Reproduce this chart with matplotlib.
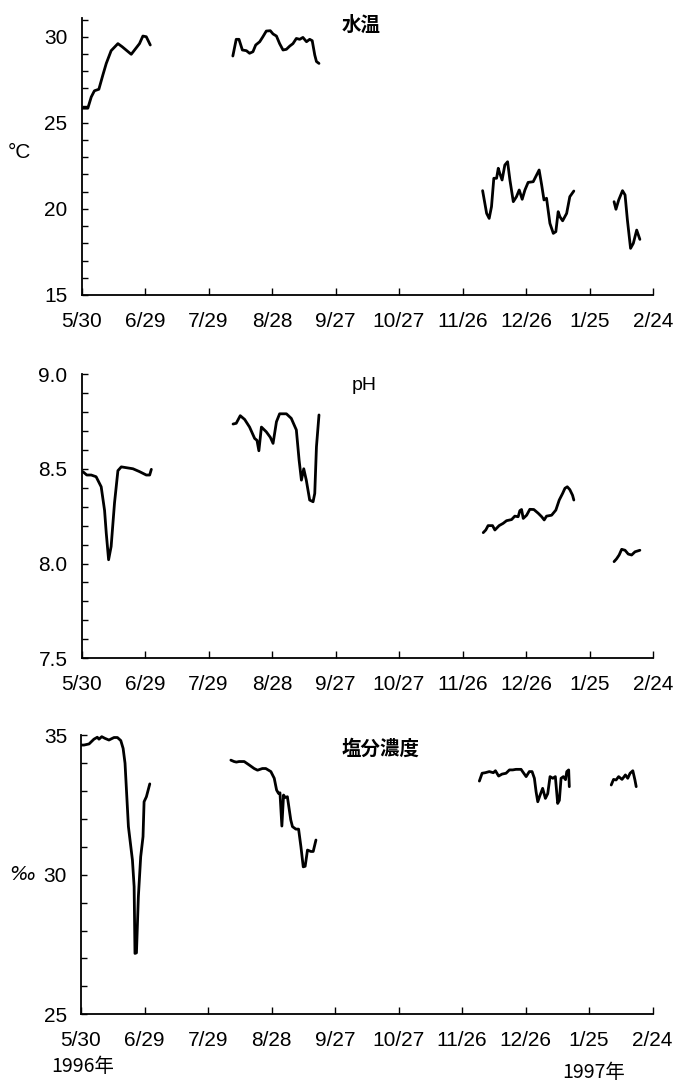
import numpy as np
import matplotlib
matplotlib.use("Agg")
import matplotlib.pyplot as plt
from matplotlib.ticker import MultipleLocator, FixedLocator

# ---------------- data (day offset from 1996-05-30) ----------------
tick_days = [0, 30, 60, 90, 120, 150, 180, 210, 240, 270]
tick_labels = ["5/30", "6/29", "7/29", "8/28", "9/27", "10/27", "11/26", "12/26", "1/25", "2/24"]

# Water temperature (deg C)
temp_d1 = [0.3, 3, 4.6, 6.1, 8.2, 10.1, 11.7, 14, 17.2, 19.2, 23.5, 27.4, 29, 30.6, 32.5]
temp_v1 = [25.85, 25.85, 26.5, 26.86, 26.95, 27.78, 28.45, 29.19, 29.6, 29.42, 28.98, 29.6, 30.04, 30.0, 29.52]
temp_d2 = [71.5, 73.1, 74.4, 76, 77.9, 79.4, 81, 82.3, 84.2, 85.7, 87.3, 89.2, 90.5, 92.1, 93.6, 95.2,
           96.8, 98.4, 99.9, 101.5, 103.1, 104.6, 106.3, 107.8, 109, 110.2, 111, 112.2]
temp_v2 = [28.88, 29.85, 29.85, 29.23, 29.19, 29.04, 29.13, 29.52, 29.71, 30.0, 30.33, 30.35, 30.16, 30.04,
           29.6, 29.23, 29.27, 29.46, 29.6, 29.9, 29.85, 29.96, 29.71, 29.85, 29.77, 28.94, 28.56, 28.45]
temp_d3 = [189.5, 191.4, 192.6, 193.7, 194.8, 196.1, 196.9, 197.6, 198.7, 200, 201.3, 202.4, 204, 205.5,
           206.8, 208.2, 209.5, 211, 213.4, 215, 216.2, 217.4, 218.5, 219.7, 221.3, 222.9, 224.1, 225.2,
           226, 227.3, 229.2, 230.7, 232.6]
temp_v3 = [21.06, 19.74, 19.45, 20.13, 21.78, 21.78, 22.36, 22.07, 21.68, 22.55, 22.74, 21.68, 20.42, 20.71,
           21.1, 20.56, 21.1, 21.54, 21.58, 21.97, 22.26, 21.39, 20.52, 20.62, 19.16, 18.58, 18.68, 19.84,
           19.55, 19.31, 19.74, 20.71, 21.04]
temp_d4 = [251.6, 252.5, 253.8, 255.6, 256.8, 257.9, 259.4, 260.7, 262.3, 263.8]
temp_v4 = [20.42, 19.98, 20.52, 21.06, 20.81, 19.36, 17.71, 18.0, 18.77, 18.23]

# pH
ph_d1 = [0.6, 2.5, 4.6, 6.9, 9.3, 10.9, 11.7, 12.8, 14, 15.6, 17.2, 18.8, 24.3, 27.4, 30.6, 32.2, 33]
ph_v1 = [8.485, 8.467, 8.467, 8.458, 8.405, 8.28, 8.16, 8.02, 8.09, 8.32, 8.49, 8.51, 8.50, 8.485, 8.467,
         8.467, 8.497]
ph_d2 = [71.6, 73.1, 75, 77.1, 79.4, 81.8, 82.9, 83.8, 85, 87.3, 89.2, 90.5, 92.1, 93.6, 96.8, 99.1, 101.5,
         102.8, 103.9, 105, 106.2, 107.8, 109.4, 110.2, 111, 112.2]
ph_v2 = [8.736, 8.74, 8.78, 8.76, 8.72, 8.66, 8.65, 8.595, 8.72, 8.695, 8.666, 8.634, 8.748, 8.79, 8.79,
         8.766, 8.705, 8.546, 8.44, 8.50, 8.44, 8.335, 8.326, 8.37, 8.616, 8.784]
ph_d3 = [189.8, 191, 192.1, 194.2, 195.3, 197.3, 199.2, 200.8, 203.2, 204.7, 206.3, 207.1, 207.9, 208.7,
         210.3, 211.8, 213.7, 215.8, 217.4, 218.6, 219.7, 222.1, 224.1, 225.7, 227.3, 228.4, 229.5, 230.7,
         232, 232.6]
ph_v3 = [8.163, 8.177, 8.20, 8.20, 8.177, 8.20, 8.212, 8.226, 8.232, 8.25, 8.247, 8.279, 8.285, 8.238,
         8.255, 8.286, 8.285, 8.265, 8.247, 8.23, 8.25, 8.255, 8.282, 8.335, 8.37, 8.397, 8.405, 8.39, 8.36,
         8.335]
ph_d4 = [251.6, 252.8, 254, 255.2, 256.8, 258.3, 259.9, 261.5, 263.8]
ph_v4 = [8.01, 8.025, 8.045, 8.075, 8.07, 8.05, 8.045, 8.062, 8.07]

# Salinity (per mille)
sal_d1 = [0, 1.4, 3.8, 6.1, 7.7, 8.5, 9.8, 11.3, 13.2, 15.6, 17.2, 18.8, 19.9, 20.8, 22.4, 24.3, 25.1,
          25.5, 26.2, 27.1, 28.2, 29.3, 29.8, 30.9, 32.5]
sal_v1 = [34.64, 34.64, 34.68, 34.85, 34.92, 34.85, 34.94, 34.88, 34.82, 34.91, 34.91, 34.8, 34.52, 33.99,
          31.72, 30.52, 29.57, 27.18, 27.2, 29.21, 30.64, 31.36, 32.61, 32.79, 33.25]
sal_d2 = [70.8, 72.3, 73.4, 74.7, 77.1, 79.4, 81.8, 83.4, 85.7, 87.3, 89.7, 91.3, 92.4, 93.3, 94, 94.9,
          95.7, 96.5, 97.5, 99.1, 99.9, 101.5, 102.8, 103.9, 105, 105.9, 107, 108.6, 109.7, 111]
sal_v2 = [34.1, 34.05, 34.03, 34.05, 34.05, 33.93, 33.8, 33.74, 33.8, 33.8, 33.69, 33.45, 33.03, 32.91,
          32.93, 31.74, 32.85, 32.76, 32.79, 31.96, 31.72, 31.63, 31.63, 31.0, 30.28, 30.3, 30.88, 30.83,
          30.83, 31.24]
sal_d3 = [188.2, 189.5, 191, 192.9, 194.8, 195.8, 197.3, 198.9, 200.8, 202.4, 204, 205.5, 207.9, 209,
          210.3, 211.8, 213.1, 214.2, 215, 215.8, 216.9, 218.1, 219.4, 220.5, 221.6, 222.9, 224.1, 225.2,
          226, 226.8, 227.9, 228.9, 229.5, 230.4, 230.7]
sal_v3 = [33.35, 33.63, 33.65, 33.69, 33.65, 33.72, 33.53, 33.6, 33.63, 33.75, 33.75, 33.77, 33.77, 33.65,
          33.51, 33.69, 33.69, 33.45, 32.97, 32.61, 32.85, 33.09, 32.73, 32.9, 33.51, 33.45, 33.51, 32.55,
          32.66, 33.45, 33.51, 33.4, 33.69, 33.75, 33.15]
sal_d4 = [250.5, 251.6, 252.8, 254, 255.6, 257.2, 258.3, 259.4, 260.7, 261.7, 262.3]
sal_v4 = [33.21, 33.41, 33.39, 33.51, 33.41, 33.57, 33.45, 33.63, 33.72, 33.39, 33.15]

# ---------------- figure ----------------
W, H = 677, 1084
fig = plt.figure(figsize=(W / 100, H / 100), dpi=100)
fig.patch.set_facecolor("white")

NUM_FONT = "Liberation Sans"
JP_FONT = ["Noto Sans CJK JP", "DejaVu Sans"]


def px_axes(left, right, top, bottom):
    return fig.add_axes([left / W, 1 - bottom / H, (right - left) / W, (bottom - top) / H])


panels = [
    dict(box=(81.5, 653, 17.8, 295), ylim=(15, 31.1), major=[15, 20, 25, 30], minor=1, fmt="{:.0f}",
         segs=[(temp_d1, temp_v1), (temp_d2, temp_v2), (temp_d3, temp_v3), (temp_d4, temp_v4)]),
    dict(box=(81.5, 653, 374, 658.3), ylim=(7.5, 9.0), major=[7.5, 8.0, 8.5, 9.0], minor=0.1, fmt="{:.1f}",
         segs=[(ph_d1, ph_v1), (ph_d2, ph_v2), (ph_d3, ph_v3), (ph_d4, ph_v4)]),
    dict(box=(81, 652.5, 735, 1014.3), ylim=(25, 35), major=[25, 30, 35], minor=1, fmt="{:.0f}",
         segs=[(sal_d1, sal_v1), (sal_d2, sal_v2), (sal_d3, sal_v3), (sal_d4, sal_v4)]),
]

for p in panels:
    ax = px_axes(*p["box"])
    for d, v in p["segs"]:
        ax.plot(d, v, color="black", lw=2.0, solid_joinstyle="round", solid_capstyle="round")
    ax.set_xlim(0, 270)
    ax.set_ylim(*p["ylim"])
    for s in ["top", "right"]:
        ax.spines[s].set_visible(False)
    for s in ["left", "bottom"]:
        ax.spines[s].set_linewidth(1.3)
    ax.xaxis.set_major_locator(FixedLocator(tick_days))
    ax.set_xticklabels(tick_labels, fontsize=15, family=NUM_FONT)
    ax.yaxis.set_major_locator(FixedLocator(p["major"]))
    ax.set_yticklabels([p["fmt"].format(t) for t in p["major"]], fontsize=15, family=NUM_FONT)
    ax.yaxis.set_minor_locator(MultipleLocator(p["minor"]))
    ax.tick_params(axis="x", direction="in", length=5, width=1.0, pad=12)
    ax.tick_params(axis="y", which="major", direction="in", length=4, width=1.0, pad=10)
    ax.tick_params(axis="y", which="minor", direction="in", length=4, width=1.0)
    ax.patch.set_alpha(0)

# titles
fig.text(342 / W, 1 - 25 / H, "水温", fontsize=14, family=JP_FONT, weight="bold", ha="left", va="center")
fig.text(352 / W, 1 - 385 / H, "pH", fontsize=14, family=NUM_FONT, ha="left", va="center")
fig.text(342 / W, 1 - 749 / H, "塩分濃度", fontsize=14, family=JP_FONT, weight="bold", ha="left", va="center")

# unit labels
fig.text(19 / W, 1 - 153 / H, "°C", fontsize=15, family=NUM_FONT, ha="center", va="center")
fig.text(22 / W, 1 - 874 / H, "‰", fontsize=14, family="DejaVu Sans", style="italic", ha="center", va="center")

# year labels
fig.text(51 / W, 1 - 1066 / H, "1996年", fontsize=14, family=JP_FONT, ha="left", va="center")
fig.text(562 / W, 1 - 1072 / H, "1997年", fontsize=14, family=JP_FONT, ha="left", va="center")

fig.savefig("out.png", dpi=100, facecolor="white")
